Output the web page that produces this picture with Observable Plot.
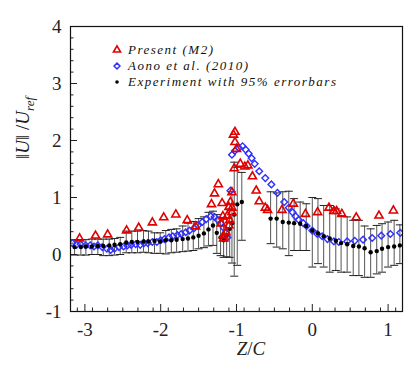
<!DOCTYPE html>
<html><head><meta charset="utf-8">
<script src="https://cdn.jsdelivr.net/npm/d3@7"></script>
<script src="https://cdn.jsdelivr.net/npm/@observablehq/plot@0.6"></script>
<style>
body{margin:0;background:#fff;}
#wrap{position:relative;width:416px;height:370px;font-family:"Liberation Serif","Times New Roman","DejaVu Serif",serif;}
#wrap svg.plot{position:absolute;left:0;top:0;}
.ylab{position:absolute;left:25px;top:128px;transform:translate(-50%,-50%) rotate(-90deg);font-size:19px;white-space:nowrap;color:#222;}
.xlab{position:absolute;left:251px;top:349px;transform:translate(-50%,-50%);font-size:19px;white-space:nowrap;color:#222;}
.legend{position:absolute;left:111px;top:42px;font-size:13px;font-style:italic;letter-spacing:1.5px;color:#111;}
.legend .row{height:16px;display:flex;align-items:center;white-space:nowrap;}
.legend svg{width:12px;height:12px;margin-right:5px;}
sub{font-size:13px;}
</style></head><body><div id="wrap"></div>
<script>
// ---- data ----
const redX = [-3.07,-2.86,-2.70,-2.45,-2.29,-2.11,-1.96,-1.80,-1.65,-1.54,-1.33,-1.29,-1.24,-1.19,-1.18,-1.20,-1.17,-1.17,-1.14,-1.12,-1.10,-1.10,-1.09,-1.08,-1.06,-1.06,-1.06,-1.03,-1.04,-1.02,-1.02,-1.00,-0.95,-0.89,-0.85,-0.79,-0.74,-0.70,-0.62,-0.59,-0.40,-0.25,-0.09,0.07,0.22,0.285,0.32,0.39,0.58,0.88,1.07];
const redY = [0.28,0.33,0.35,0.42,0.47,0.56,0.65,0.70,0.60,0.49,0.88,1.07,1.23,0.90,0.67,0.54,0.33,0.28,0.39,0.68,0.83,0.51,0.60,0.92,0.82,1.09,0.74,1.51,2.10,2.15,1.97,1.85,1.59,1.54,1.56,1.37,1.12,0.93,0.82,0.78,0.78,0.89,0.71,0.74,0.82,0.76,0.76,0.71,0.65,0.68,0.77];

const blueX = [-3.166,-3.11,-3.057,-2.99,-2.93,-2.88,-2.83,-2.77,-2.71,-2.66,-2.61,-2.55,-2.49,-2.44,-2.39,-2.33,-2.27,-2.22,-2.17,-2.11,-2.05,-2.00,-1.95,-1.89,-1.84,-1.78,-1.73,-1.67,-1.62,-1.56,-1.51,-1.45,-1.40,-1.34,-1.29,-1.25,-1.21,-1.17,-1.14,-1.12,-1.08,-1.06,-1.02,-0.97,-0.92,-0.88,-0.84,-0.80,-0.76,-0.70,-0.62,-0.54,-0.46,-0.37,-0.31,-0.26,-0.22,-0.18,-0.12,-0.075,0.0,0.066,0.13,0.20,0.285,0.35,0.46,0.56,0.67,0.79,0.91,1.03,1.16];
const blueY = [0.20,0.17,0.18,0.16,0.16,0.14,0.16,0.13,0.10,0.08,0.10,0.13,0.14,0.16,0.17,0.18,0.17,0.20,0.20,0.22,0.22,0.25,0.27,0.30,0.32,0.34,0.36,0.39,0.42,0.46,0.51,0.57,0.62,0.67,0.66,0.61,0.55,0.47,0.38,0.30,1.12,1.75,1.82,1.87,1.90,1.84,1.77,1.69,1.59,1.46,1.34,1.23,1.08,0.92,0.82,0.74,0.67,0.61,0.55,0.50,0.42,0.36,0.32,0.27,0.23,0.22,0.23,0.24,0.26,0.29,0.33,0.36,0.38];

const expX = [-3.136,-3.053,-2.987,-2.908,-2.829,-2.758,-2.679,-2.609,-2.534,-2.455,-2.381,-2.306,-2.227,-2.161,-2.082,-2.007,-1.933,-1.86,-1.79,-1.71,-1.64,-1.57,-1.50,-1.43,-1.37,-1.31,-1.26,-1.21,-1.17,-1.13,-1.09,-1.06,-1.03,-0.99,-0.93,-0.55,-0.47,-0.39,-0.31,-0.24,-0.16,-0.08,0.0,0.075,0.15,0.23,0.31,0.38,0.46,0.54,0.615,0.69,0.77,0.85,0.92,1.0,1.08,1.155];
const expY = [0.13,0.13,0.14,0.14,0.15,0.15,0.16,0.17,0.18,0.21,0.22,0.22,0.23,0.23,0.24,0.23,0.25,0.25,0.26,0.27,0.28,0.30,0.33,0.37,0.44,0.51,0.38,0.30,0.25,0.33,0.45,0.55,0.70,0.88,0.92,0.63,0.63,0.57,0.56,0.55,0.54,0.50,0.42,0.37,0.32,0.28,0.24,0.20,0.18,0.15,0.14,0.11,0.04,0.06,0.10,0.13,0.14,0.16];
const expLo = [-0.01,-0.01,-0.01,0.00,0.00,-0.02,-0.02,-0.01,0.00,0.03,0.03,0.03,0.04,0.03,0.02,0.02,0.01,0.03,0.04,0.05,0.06,0.07,0.10,0.12,0.15,0.16,0.02,-0.02,-0.05,-0.04,-0.05,-0.15,-0.38,-0.19,0.25,0.19,0.13,0.10,-0.02,0.07,0.07,0.07,-0.22,-0.16,-0.22,-0.31,-0.28,-0.31,-0.31,-0.37,-0.37,-0.40,-0.40,-0.34,-0.31,-0.22,-0.19,-0.16];
const expHi = [0.26,0.26,0.26,0.27,0.27,0.27,0.27,0.28,0.30,0.41,0.41,0.41,0.42,0.41,0.38,0.38,0.42,0.44,0.45,0.50,0.55,0.58,0.63,0.66,0.74,0.76,0.70,0.65,0.62,0.64,0.80,1.10,1.62,1.53,1.44,1.10,1.08,1.10,1.11,0.98,0.92,0.89,1.00,0.98,0.86,0.86,0.80,0.68,0.66,0.60,0.60,0.50,0.45,0.51,0.54,0.57,0.60,0.52];

const xMajor = [-3,-2,-1,0,1];
const yMajor = [-1,0,1,2,3,4];
const xMinor = d3.range(-31,12,2).map(v => v/10);
const yMinor = d3.range(-10,41,2).map(v => v/10);

const seriesLabels = ["Present (M2)", "Aono et al. (2010)", "Experiment with 95% errorbars"];
const colors = {red: "#e00000", blue: "#2f2fff", black: "#000"};

// ---- tables ----
const red = redX.map((x,i) => ({x, y: redY[i]}));
const blue = blueX.map((x,i) => ({x, y: blueY[i]}));
const exp = expX.map((x,i) => ({x, y: expY[i], lo: expLo[i], hi: expHi[i]}));

const cap = {draw(ctx){ ctx.moveTo(-4,0); ctx.lineTo(4,0); }};
const serif = '"Liberation Serif","Times New Roman","DejaVu Serif",serif';

const chart = Plot.plot({
  width: 416, height: 370,
  marginLeft: 70, marginRight: 14, marginTop: 26, marginBottom: 59,
  style: {fontFamily: serif, fontSize: "19px", background: "transparent", color: "#222"},
  x: {domain: [-3.19, 1.19]},
  y: {domain: [-1, 4]},
  clip: true,
  marks: [
    Plot.ruleX(exp, {x: "x", y1: "lo", y2: "hi", stroke: "#555", strokeWidth: 1}),
    Plot.dot(exp, {x: "x", y: "lo", symbol: cap, stroke: "#222", fill: "none", strokeWidth: 1}),
    Plot.dot(exp, {x: "x", y: "hi", symbol: cap, stroke: "#222", fill: "none", strokeWidth: 1}),
    Plot.dot(blue, {x: "x", y: "y", symbol: "diamond2", r: 3, stroke: colors.blue, strokeWidth: 1.4, fill: "none"}),
    Plot.dot(exp, {x: "x", y: "y", r: 2.2, fill: colors.black, stroke: "none"}),
    Plot.dot(red, {x: "x", y: "y", symbol: "triangle", r: 3, stroke: colors.red, strokeWidth: 1.6, fill: "none"}),
    Plot.axisX({ticks: xMajor, tickSize: 7, dy: -7, tickFormat: () => "", stroke: "#222", label: null}),
    Plot.axisX({ticks: xMinor, tickSize: 3.5, dy: -3.5, tickFormat: () => "", stroke: "#222", label: null}),
    Plot.axisX({ticks: xMajor, tickSize: 0, tickPadding: 11, tickFormat: d => String(d), label: null, fontFamily: serif}),
    Plot.axisY({ticks: yMajor, tickSize: 7, dx: 7, tickFormat: () => "", stroke: "#222", label: null}),
    Plot.axisY({ticks: yMinor, tickSize: 3.5, dx: 3.5, tickFormat: () => "", stroke: "#222", label: null}),
    Plot.axisY({ticks: yMajor, tickSize: 0, tickPadding: 9, tickFormat: d => String(d), label: null, fontFamily: serif}),
    Plot.frame({stroke: "#111", strokeWidth: 1.2})
  ]
});
chart.classList.add("plot");
const wrap = document.getElementById("wrap");
wrap.appendChild(chart);

const ylab = document.createElement("div");
ylab.className = "ylab";
ylab.innerHTML = '&#8214;<i>U</i>&#8214; /<i>U</i><sub><i>ref</i></sub>';
wrap.appendChild(ylab);
const xlab = document.createElement("div");
xlab.className = "xlab";
xlab.innerHTML = '<i>Z</i>/<i>C</i>';
wrap.appendChild(xlab);

const leg = document.createElement("div");
leg.className = "legend";
const syms = [
  `<svg viewBox="-6 -6 12 12"><path d="${d3.symbol(d3.symbolTriangle, 22)()}" fill="none" stroke="${colors.red}" stroke-width="1.6"/></svg>`,
  `<svg viewBox="-6 -6 12 12"><path d="${d3.symbol(d3.symbolDiamond2, 22)()}" fill="none" stroke="${colors.blue}" stroke-width="1.5"/></svg>`,
  `<svg viewBox="-6 -6 12 12"><circle r="1.8" fill="#000"/></svg>`
];
seriesLabels.forEach((t,i) => {
  const r = document.createElement("div");
  r.className = "row";
  r.innerHTML = syms[i] + `<span>${t}</span>`;
  leg.appendChild(r);
});
wrap.appendChild(leg);
</script>
</body></html>
